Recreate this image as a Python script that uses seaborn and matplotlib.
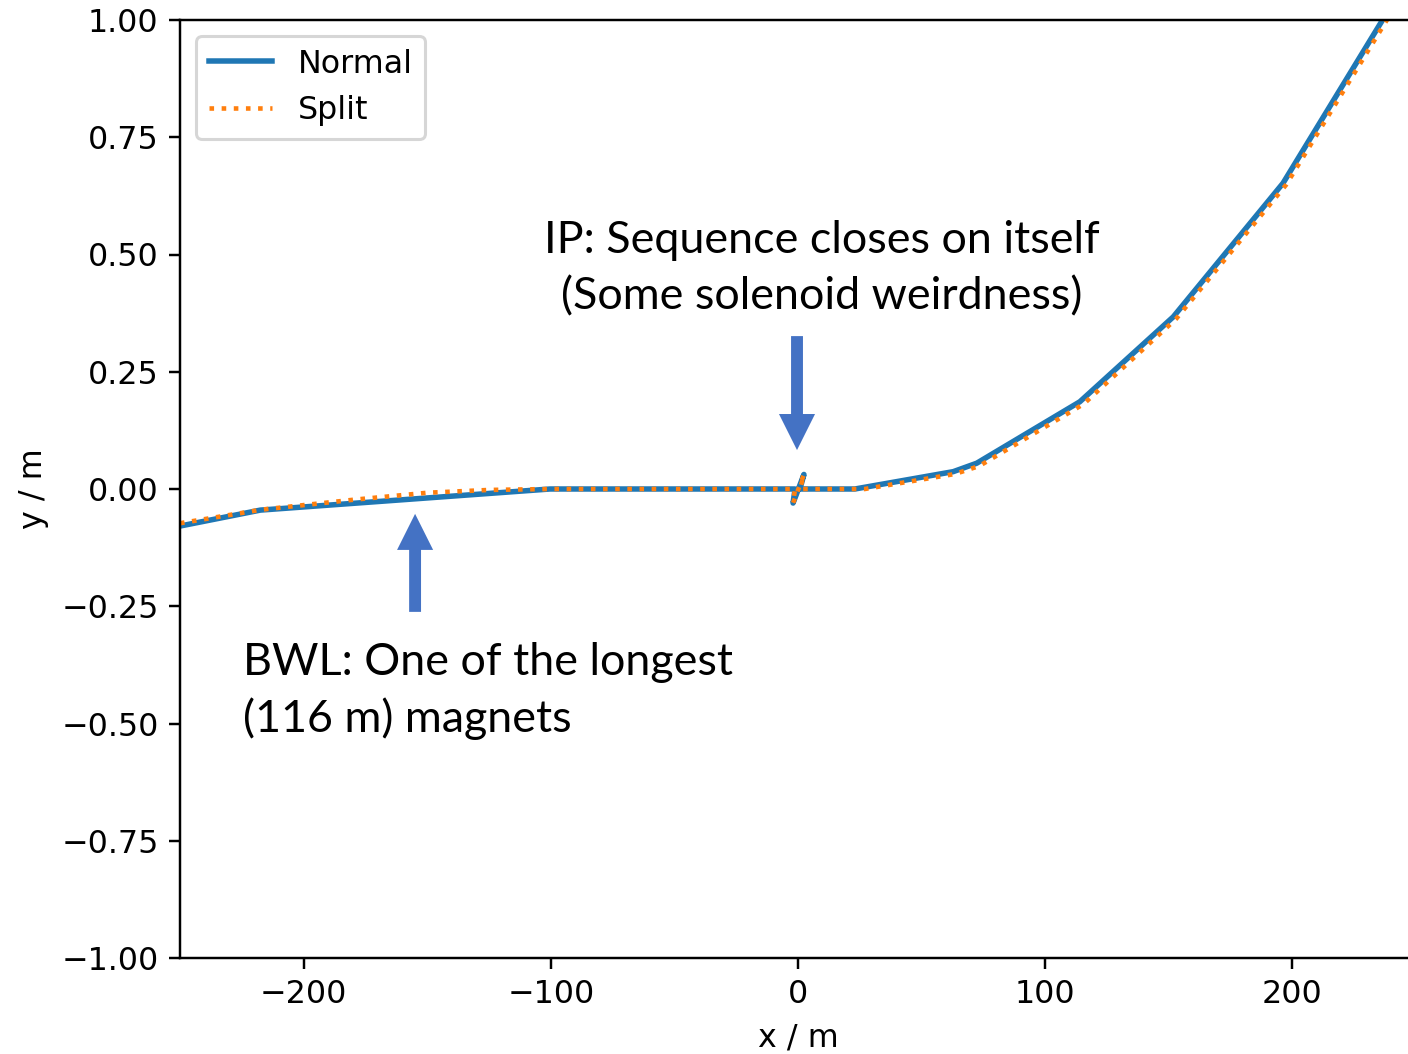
import numpy as np
import pandas as pd
import seaborn as sns
import matplotlib as mpl
import matplotlib.pyplot as plt

# trajectory of the beam line, normal elements vs split elements
normal_x = [-250.0, -217.5, -100.3, -1.2, -2.0, 2.4, 0.8, 23.0, 62.8, 72.3, 114.0, 151.8, 196.2, 236.0, 250.0]
normal_y = [-0.079, -0.045, 0.0, 0.0, -0.030, 0.031, 0.0, 0.0, 0.037, 0.055, 0.186, 0.367, 0.652, 0.996, 1.116]

split_x = [-250.0, -217.0, -180.0, -150.0, -125.0, -100.0, -1.2, -2.0, 2.4, 0.8, 27.0, 63.5, 73.3, 115.5, 153.0, 197.5, 237.5, 251.0]
split_y = [-0.073, -0.044, -0.023, -0.008, -0.002, 0.0, 0.0, -0.030, 0.031, 0.0, 0.0, 0.032, 0.049, 0.181, 0.363, 0.649, 0.994, 1.108]

labels = ["Normal", "Split"]
arrowColour = "#4472C4"

def px2in(p, dpi=220):
    return p/float(dpi)

if __name__ == "__main__":

    mpl.rcParams['font.size'] = 10.4

    dpi = 220
    fig = plt.figure(figsize=(px2in(1408), px2in(1054)), dpi=dpi)
    # axes runs off the right edge, like the cropped original
    ax = fig.add_axes([180/1408., 96/1054., 1236/1408., 938/1054.])

    normal = pd.DataFrame({'x': normal_x, 'y': normal_y})
    split = pd.DataFrame({'x': split_x, 'y': split_y})

    sns.lineplot(data=normal, x='x', y='y', sort=False, estimator=None, ax=ax,
                 color='tab:blue', lw=1.8, label=labels[0])
    sns.lineplot(data=split, x='x', y='y', sort=False, estimator=None, ax=ax,
                 color='tab:orange', lw=1.5, ls=':', label=labels[1])

    ax.set_xlim(-250, 250)
    ax.set_ylim(-1, 1)
    ax.set_xlabel('x / m')
    ax.set_ylabel('y / m')
    ax.legend(loc='upper left')

    # annotations (added on top in the original)
    arrowStyle = 'simple,head_length=1.0,head_width=1.0,tail_width=0.33'
    ax.annotate('', xy=(-0.4, 0.083), xytext=(-0.4, 0.326),
                arrowprops=dict(arrowstyle=arrowStyle, mutation_scale=11.8,
                                fc=arrowColour, ec='none', shrinkA=0, shrinkB=0))
    ax.annotate('', xy=(-154.9, -0.053), xytext=(-154.9, -0.262),
                arrowprops=dict(arrowstyle=arrowStyle, mutation_scale=11.8,
                                fc=arrowColour, ec='none', shrinkA=0, shrinkB=0))

    fam = ['Lato', 'DejaVu Sans']
    fs = 14.7
    ax.text(9.7, 0.503, 'IP: Sequence closes on itself', ha='center', va='baseline', fontsize=fs, family=fam)
    ax.text(9.7, 0.382, '(Some solenoid weirdness)', ha='center', va='baseline', fontsize=fs, family=fam)
    ax.text(-224.4, -0.397, 'BWL: One of the longest', ha='left', va='baseline', fontsize=fs, family=fam)
    ax.text(-224.4, -0.518, '(116 m) magnets', ha='left', va='baseline', fontsize=fs, family=fam)

    plt.savefig('out.png', dpi=dpi)
    plt.close()
